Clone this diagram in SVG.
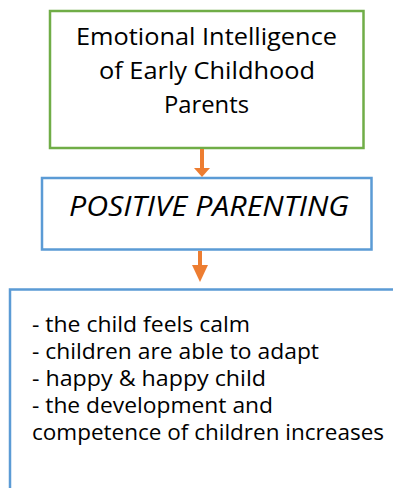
<svg xmlns="http://www.w3.org/2000/svg" width="393" height="488" viewBox="0 0 393 488">
<style>
.t{font-family:"Open Sans","Noto Sans","DejaVu Sans",sans-serif;fill:#000}
.c{text-anchor:middle;font-size:24.5px}
.i{font-style:italic;font-size:27px}
.l{font-size:21.5px}
.g{fill:#fff;stroke:#70AD47;stroke-width:2.5}
.b{fill:#fff;stroke:#5B9BD5;stroke-width:2.5}
.a{stroke:#ED7D31;stroke-width:4;fill:none}
.h{fill:#ED7D31}
</style>
<rect width="393" height="488" fill="#fff"/>
<g id="node-emotional">
<rect class="g" x="50" y="11" width="313.5" height="137"/>
<text class="t c" x="206.5" y="45" textLength="261" lengthAdjust="spacingAndGlyphs">Emotional Intelligence</text>
<text class="t c" x="207" y="79" textLength="216" lengthAdjust="spacingAndGlyphs">of Early Childhood</text>
<text class="t c" x="206.5" y="113" textLength="85" lengthAdjust="spacingAndGlyphs">Parents</text>
</g>
<g id="node-positive">
<rect class="b" x="42" y="178" width="329.5" height="71.5"/>
<text class="t i" x="69" y="216" textLength="280" lengthAdjust="spacingAndGlyphs">POSITIVE PARENTING</text>
</g>
<g id="node-outcomes">
<path class="b" d="M10 500 V289.5 H400" fill="none"/>
<text class="t l" x="32" y="332" textLength="218" lengthAdjust="spacingAndGlyphs">- the child feels calm</text>
<text class="t l" x="32" y="359" textLength="287" lengthAdjust="spacingAndGlyphs">- children are able to adapt</text>
<text class="t l" x="32" y="386" textLength="234" lengthAdjust="spacingAndGlyphs">- happy &amp; happy child</text>
<text class="t l" x="32" y="413" textLength="241" lengthAdjust="spacingAndGlyphs">- the development and</text>
<text class="t l" x="32" y="440" textLength="352" lengthAdjust="spacingAndGlyphs">competence of children increases</text>
</g>
<g id="connectors">
<line class="a" x1="202" y1="149" x2="202" y2="169"/>
<polygon class="h" points="194,168 210,168 202,177"/>
<line class="a" x1="200" y1="251" x2="200" y2="266"/>
<polygon class="h" points="192,265 208,265 200,282"/>
</g>
</svg>
